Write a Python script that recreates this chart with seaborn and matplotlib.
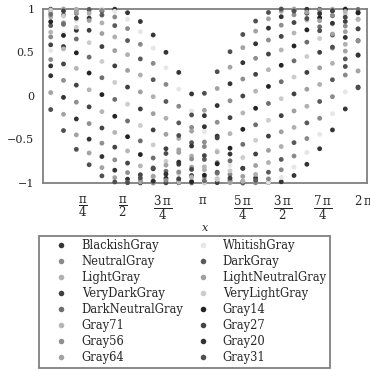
import numpy as np
import pandas as pd
import matplotlib
matplotlib.use("Agg")
import matplotlib.pyplot as plt
from matplotlib.ticker import FixedLocator, MultipleLocator
import seaborn as sns

# ---------------- data ----------------
x_values = [0.157, 0.408, 0.660, 0.911, 1.162, 1.414, 1.665, 1.916, 2.168, 2.419,
            2.670, 2.922, 3.173, 3.424, 3.676, 3.927, 4.178, 4.430, 4.681, 4.932,
            5.184, 5.435, 5.686, 5.938, 6.189]

series_names = ["BlackishGray", "WhitishGray", "NeutralGray", "DarkGray",
                "LightGray", "LightNeutralGray", "VeryDarkGray", "VeryLightGray",
                "DarkNeutralGray", "Gray14", "Gray71", "Gray27",
                "Gray56", "Gray20", "Gray64", "Gray31"]

series_colors = ["#353535", "#e6e6e6", "#8a8a8a", "#5a5a5a",
                 "#b0b0b0", "#a0a0a0", "#404040", "#cccccc",
                 "#6e6e6e", "#242424", "#b5b5b5", "#454545",
                 "#8f8f8f", "#333333", "#a3a3a3", "#4f4f4f"]

y_BlackishGray = [0.346, 0.568, 0.755, 0.894, 0.977, 0.998, 0.957, 0.856, 0.701, 0.502,
                  0.271, 0.024, -0.226, -0.461, -0.667, -0.831, -0.943, -0.996, -0.986, -0.914,
                  -0.785, -0.606, -0.390, -0.149, 0.102]
y_WhitishGray = [0.522, 0.718, 0.868, 0.964, 1.000, 0.972, 0.883, 0.739, 0.549, 0.324,
                 0.078, -0.172, -0.412, -0.625, -0.799, -0.924, -0.990, -0.994, -0.936, -0.818,
                 -0.649, -0.440, -0.203, 0.047, 0.294]
y_NeutralGray = [0.679, 0.840, 0.948, 0.997, 0.984, 0.908, 0.775, 0.594, 0.375, 0.133,
                 -0.118, -0.361, -0.581, -0.765, -0.901, -0.981, -0.998, -0.953, -0.848, -0.690,
                 -0.489, -0.256, -0.008, 0.241, 0.475]
y_DarkGray = [0.809, 0.930, 0.992, 0.992, 0.930, 0.809, 0.637, 0.426, 0.187, -0.063,
              -0.309, -0.536, -0.729, -0.876, -0.969, -1.000, -0.969, -0.876, -0.729, -0.536,
              -0.309, -0.063, 0.187, 0.426, 0.637]
y_LightGray = [0.908, 0.984, 0.997, 0.948, 0.840, 0.679, 0.475, 0.241, -0.008, -0.256,
               -0.489, -0.690, -0.848, -0.953, -0.998, -0.981, -0.901, -0.765, -0.581, -0.361,
               -0.118, 0.133, 0.375, 0.594, 0.775]
y_LightNeutralGray = [0.972, 1.000, 0.964, 0.868, 0.718, 0.522, 0.294, 0.047, -0.203, -0.440,
                      -0.649, -0.818, -0.936, -0.994, -0.990, -0.924, -0.799, -0.625, -0.412, -0.172,
                      0.078, 0.324, 0.549, 0.739, 0.883]
y_VeryDarkGray = [0.998, 0.977, 0.894, 0.755, 0.568, 0.346, 0.102, -0.149, -0.390, -0.606,
                  -0.785, -0.914, -0.986, -0.996, -0.943, -0.831, -0.667, -0.461, -0.226, 0.024,
                  0.271, 0.502, 0.701, 0.856, 0.957]
y_VeryLightGray = [0.988, 0.918, 0.790, 0.613, 0.397, 0.156, -0.094, -0.339, -0.562, -0.750,
                   -0.891, -0.976, -1.000, -0.960, -0.861, -0.707, -0.509, -0.279, -0.031, 0.218,
                   0.454, 0.661, 0.827, 0.941, 0.996]
y_DarkNeutralGray = [0.938, 0.823, 0.655, 0.447, 0.210, -0.039, -0.287, -0.516, -0.713, -0.865,
                     -0.963, -1.000, -0.974, -0.887, -0.745, -0.556, -0.331, -0.086, 0.164, 0.404,
                     0.619, 0.795, 0.921, 0.989, 0.995]
y_Gray14 = [0.853, 0.696, 0.496, 0.264, 0.016, -0.233, -0.468, -0.673, -0.836, -0.946,
            -0.997, -0.985, -0.911, -0.780, -0.600, -0.383, -0.141, 0.110, 0.353, 0.575,
            0.760, 0.898, 0.979, 0.999, 0.956]
y_Gray71 = [0.734, 0.542, 0.317, 0.071, -0.180, -0.419, -0.631, -0.804, -0.927, -0.991,
            -0.993, -0.933, -0.814, -0.643, -0.433, -0.195, 0.055, 0.302, 0.529, 0.724,
            0.873, 0.967, 1.000, 0.971, 0.880]
y_Gray27 = [0.588, 0.368, 0.125, -0.125, -0.368, -0.588, -0.771, -0.905, -0.982, -0.998,
            -0.951, -0.844, -0.685, -0.482, -0.249, 0.000, 0.249, 0.482, 0.685, 0.844,
            0.951, 0.998, 0.982, 0.905, 0.771]
y_Gray56 = [0.419, 0.180, -0.071, -0.317, -0.542, -0.734, -0.880, -0.971, -1.000, -0.967,
            -0.873, -0.724, -0.529, -0.302, -0.055, 0.195, 0.433, 0.643, 0.814, 0.933,
            0.993, 0.991, 0.927, 0.804, 0.631]
y_Gray20 = [0.233, -0.016, -0.264, -0.496, -0.696, -0.853, -0.956, -0.999, -0.979, -0.898,
            -0.760, -0.575, -0.353, -0.110, 0.141, 0.383, 0.600, 0.780, 0.911, 0.985,
            0.997, 0.946, 0.836, 0.673, 0.468]
y_Gray64 = [0.039, -0.210, -0.447, -0.655, -0.823, -0.938, -0.995, -0.989, -0.921, -0.795,
            -0.619, -0.404, -0.164, 0.086, 0.331, 0.556, 0.745, 0.887, 0.974, 1.000,
            0.963, 0.865, 0.713, 0.516, 0.287]
y_Gray31 = [-0.156, -0.397, -0.613, -0.790, -0.918, -0.988, -0.996, -0.941, -0.827, -0.661,
            -0.454, -0.218, 0.031, 0.279, 0.509, 0.707, 0.861, 0.960, 1.000, 0.976,
            0.891, 0.750, 0.562, 0.339, 0.094]

y_series = [y_BlackishGray, y_WhitishGray, y_NeutralGray, y_DarkGray,
            y_LightGray, y_LightNeutralGray, y_VeryDarkGray, y_VeryLightGray,
            y_DarkNeutralGray, y_Gray14, y_Gray71, y_Gray27,
            y_Gray56, y_Gray20, y_Gray64, y_Gray31]

x_tick_labels = [r"$\dfrac{\mathrm{\pi}}{4}$", r"$\dfrac{\mathrm{\pi}}{2}$",
                 r"$\dfrac{3\,\mathrm{\pi}}{4}$", r"$\mathrm{\pi}$",
                 r"$\dfrac{5\,\mathrm{\pi}}{4}$", r"$\dfrac{3\,\mathrm{\pi}}{2}$",
                 r"$\dfrac{7\,\mathrm{\pi}}{4}$", r"$2\,\mathrm{\pi}$"]
y_ticks = [-1, -0.5, 0, 0.5, 1]
y_tick_labels = ["\u22121", "\u22120.5", "0", "0.5", "1"]

# ---------------- table ----------------
rows = []
for name, ys in zip(series_names, y_series):
    for xv, yv in zip(x_values, ys):
        rows.append((xv, yv, name))
df = pd.DataFrame(rows, columns=["x", "y", "series"])

# ---------------- style ----------------
sns.set_style("white")
plt.rcParams["font.family"] = ["DejaVu Serif"]
plt.rcParams["mathtext.fontset"] = "dejavuserif"

FRAME = "#808080"

fig = plt.figure(figsize=(3.7, 3.7), dpi=100)
ax = fig.add_axes([0.1154, 0.5054, 0.8766, 0.4703])

sns.scatterplot(data=df, x="x", y="y", hue="series", hue_order=series_names,
                palette=dict(zip(series_names, series_colors)), s=12, linewidth=0,
                clip_on=False, ax=ax, legend=True, zorder=3)

ax.set_xlim(0, 6.365)
ax.set_ylim(-1, 1)

ax.xaxis.set_major_locator(FixedLocator([np.pi * k / 4 for k in range(1, 9)]))
ax.set_xticklabels(x_tick_labels)
ax.xaxis.set_minor_locator(MultipleLocator(np.pi / 16))
ax.set_yticks(y_ticks)
ax.set_yticklabels(y_tick_labels)
ax.yaxis.set_minor_locator(MultipleLocator(0.1))

ax.tick_params(axis="both", which="major", direction="out", length=4, width=0.8,
               color=FRAME, labelsize=8, pad=2)
ax.tick_params(axis="both", which="minor", direction="out", length=2, width=0.6,
               color=FRAME)
ax.tick_params(axis="x", which="major", labelsize=8.5, pad=4)
ax.tick_params(top=False, right=False, which="both")

for sp in ax.spines.values():
    sp.set_visible(True)
    sp.set_color(FRAME)
    sp.set_linewidth(1.3)

ax.set_xlabel("x", fontsize=8, fontstyle="italic", labelpad=1)
ax.set_ylabel("")

# ---------------- legend (row-major order as in the reference) ----------------
leg = ax.get_legend()
handles = list(leg.legend_handles)
labels = [t.get_text() for t in leg.texts]
leg.remove()
hmap = dict(zip(labels, handles))
order = series_names[0::2] + series_names[1::2]
for h in handles:
    h.set_markersize(4.0)
    h.set_markeredgewidth(0)

fig.legend([hmap[n] for n in order], order, ncol=2, loc="upper left",
           bbox_to_anchor=(39 / 370, 1 - 236 / 370), fontsize=8.3,
           frameon=True, fancybox=False, edgecolor=FRAME, framealpha=1,
           borderpad=0.3, labelspacing=0.26, handlelength=3.3,
           handletextpad=0.1, columnspacing=0.0, borderaxespad=0)
fig.legends[0].get_frame().set_linewidth(1.3)

fig.savefig("out.png", dpi=100)
